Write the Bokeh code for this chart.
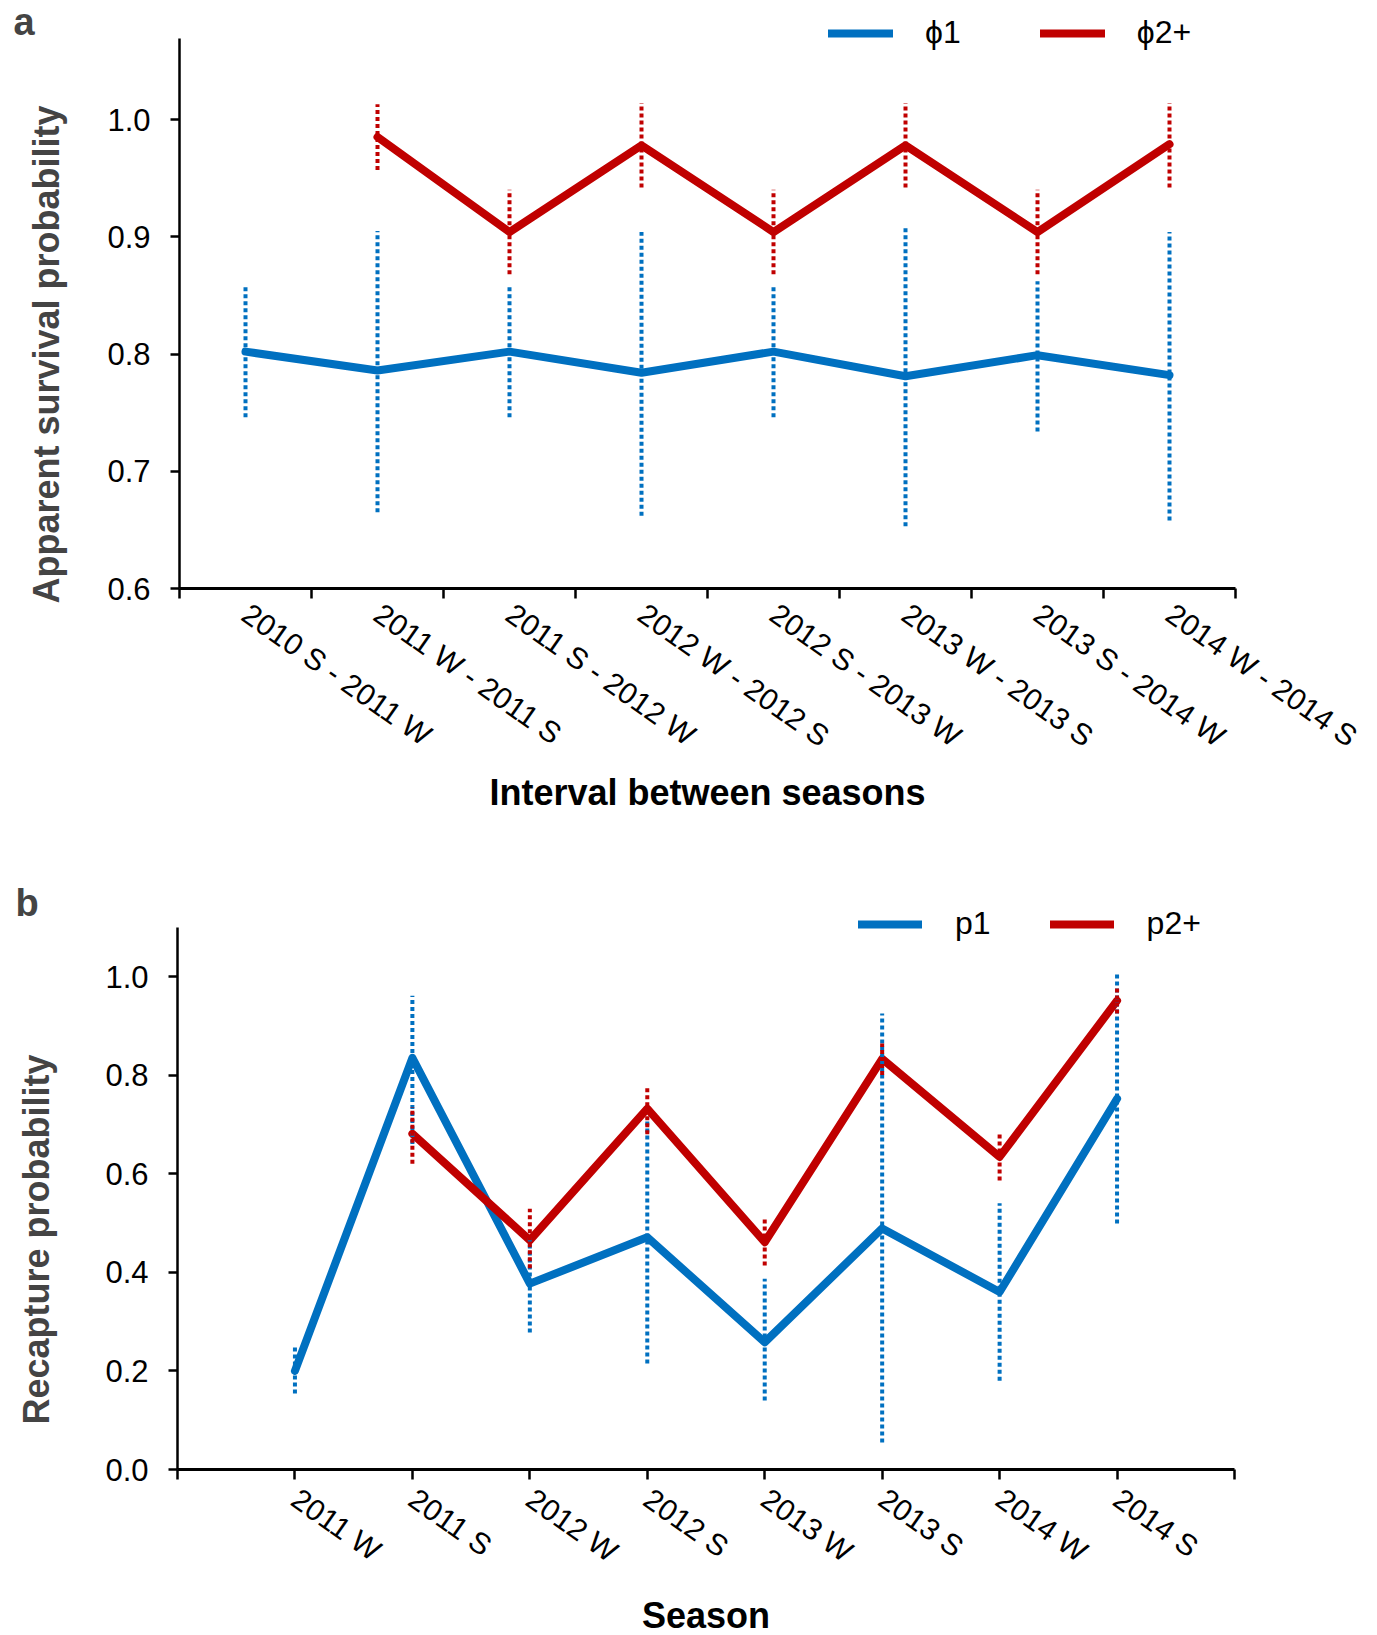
import numpy as np
from bokeh.plotting import figure
from bokeh.models import (Range1d, FixedTicker, NumeralTickFormatter, Label,
                          Legend, LegendItem)
from bokeh.layouts import column
from bokeh.embed import file_html
from bokeh.resources import INLINE

nan = np.nan
BLUE = "#0070C0"
RED = "#C00000"
FONT = "Liberation Sans"

# ---------------- Panel a data ----------------
intervals = ["2010 S - 2011 W", "2011 W - 2011 S", "2011 S - 2012 W", "2012 W - 2012 S",
             "2012 S - 2013 W", "2013 W - 2013 S", "2013 S - 2014 W", "2014 W - 2014 S"]
phi1 = [0.802, 0.786, 0.802, 0.784, 0.802, 0.781, 0.799, 0.782]
phi1_lo = [0.746, 0.665, 0.746, 0.662, 0.746, 0.653, 0.734, 0.658]
phi1_hi = [0.857, 0.905, 0.857, 0.904, 0.857, 0.908, 0.862, 0.904]
phi2 = [nan, 0.985, 0.904, 0.978, 0.904, 0.978, 0.904, 0.979]
phi2_lo = [nan, 0.957, 0.868, 0.942, 0.868, 0.942, 0.868, 0.942]
phi2_hi = [nan, 1.013, 0.940, 1.014, 0.940, 1.014, 0.940, 1.014]
ya_ticks = [0.6, 0.7, 0.8, 0.9, 1.0]
ya_bounds = (0.6, 1.069)

# ---------------- Panel b data ----------------
seasons = ["2011 W", "2011 S", "2012 W", "2012 S", "2013 W", "2013 S", "2014 W", "2014 S"]
p1 = [0.200, 0.835, 0.377, 0.471, 0.258, 0.489, 0.360, 0.752]
p1_lo = [0.154, 0.660, 0.278, 0.215, 0.140, 0.055, 0.180, 0.499]
p1_hi = [0.248, 0.961, 0.470, 0.714, 0.387, 0.925, 0.540, 1.009]
p2 = [nan, 0.681, 0.465, 0.732, 0.461, 0.833, 0.634, 0.951]
p2_lo = [nan, 0.620, 0.408, 0.680, 0.414, 0.800, 0.586, 0.925]
p2_hi = [nan, 0.735, 0.529, 0.779, 0.512, 0.864, 0.681, 0.978]
yb_ticks = [0.0, 0.2, 0.4, 0.6, 0.8, 1.0]
yb_bounds = (0.0, 1.10)

FIG_W = 1369


def ranges(width, height, x0v, x0px, x1v, x1px, y0v, y0px, y1v, y1px):
    """Map pixel anchors (from figure top-left) to data ranges covering the whole canvas."""
    sx = (x1px - x0px) / (x1v - x0v)
    sy = (y0px - y1px) / (y1v - y0v)
    xs = x0v - x0px / sx
    xe = x0v + (width - x0px) / sx
    ye = y0v + y0px / sy
    ys = y0v - (height - y0px) / sy
    return (xs, xe), (ys, ye)


def base_fig(width, height, xr, yr, xbounds, ybounds, xfix, yfix):
    p = figure(width=width, height=height, x_range=Range1d(*xr), y_range=Range1d(*yr),
               output_backend="svg", toolbar_location=None,
               min_border=0, min_border_left=0, min_border_right=0,
               min_border_top=0, min_border_bottom=0)
    p.outline_line_color = None
    p.xgrid.visible = False
    p.ygrid.visible = False
    p.background_fill_color = "white"
    for ax in (p.xaxis[0], p.yaxis[0]):
        ax.axis_line_color = "black"
        ax.major_tick_line_color = "black"
        ax.minor_tick_line_color = "black"
        ax.major_label_text_font = FONT
        ax.major_label_text_font_size = "31px"
        ax.major_label_text_color = "black"
        ax.axis_label_text_font = FONT
        ax.axis_label_text_font_size = "36px"
        ax.axis_label_text_font_style = "bold"
        ax.axis_label_text_color = "black"
    yax = p.yaxis[0]
    yax.fixed_location = yfix
    yax.bounds = ybounds
    yax.axis_line_width = 2.5
    yax.major_tick_line_width = 2.5
    yax.major_tick_out = 9
    yax.major_tick_in = 0
    yax.minor_tick_line_color = None
    yax.major_label_standoff = 20
    yax.formatter = NumeralTickFormatter(format="0.0")
    xax = p.xaxis[0]
    xax.fixed_location = xfix
    xax.bounds = xbounds
    xax.axis_line_width = 3
    xax.major_label_text_font_size = "30px"
    xax.major_label_orientation = -0.61
    xax.minor_tick_line_width = 2.5
    xax.major_tick_line_width = 2.5
    xax.minor_tick_out = 10
    xax.minor_tick_in = 0
    return p


def add_series(p, xs, ys, color):
    return p.line(xs, ys, line_width=8, line_color=color, line_join="round", line_cap="round")


def add_bars(p, xs, lo, hi, color):
    p.segment(x0=xs, y0=lo, x1=xs, y1=hi, line_color=color, line_width=4, line_dash="4 3")


# ---------------- Panel a ----------------
FA_H = 850
na = len(intervals)
xa = [i + 0.5 for i in range(na)]
xra, yra = ranges(FIG_W, FA_H, 0, 179, na, 1235, ya_ticks[0], 588, ya_ticks[-1], 119)
pa = base_fig(FIG_W, FA_H, xra, yra, (0, na), ya_bounds, ya_bounds[0], 0)
pa.xaxis[0].ticker = FixedTicker(ticks=xa, minor_ticks=list(range(na + 1)))
pa.xaxis[0].major_label_overrides = {x: lab for x, lab in zip(xa, intervals)}
pa.xaxis[0].major_tick_out = 0
pa.xaxis[0].major_tick_in = 0
pa.xaxis[0].major_label_standoff = 12
pa.xaxis[0].axis_label = "Interval between seasons"
pa.xaxis[0].axis_label_standoff = 2
pa.yaxis[0].ticker = FixedTicker(ticks=ya_ticks)

ra1 = add_series(pa, xa, phi1, BLUE)
ra2 = add_series(pa, xa, phi2, RED)
add_bars(pa, xa, phi1_lo, phi1_hi, BLUE)
add_bars(pa, xa, phi2_lo, phi2_hi, RED)

leg_a = Legend(items=[LegendItem(label="\u03d51", renderers=[ra1]),
                      LegendItem(label="\u03d52+", renderers=[ra2])],
               location=(828, 799), orientation="horizontal",
               glyph_width=65, glyph_height=20, label_standoff=32, spacing=79,
               padding=0, margin=0, border_line_color=None, background_fill_alpha=0,
               label_text_font=FONT, label_text_font_size="32px", label_text_color="black")
pa.add_layout(leg_a)

pa.add_layout(Label(x=13, y=829, x_units="screen", y_units="screen", text="a",
                    text_font=FONT, text_font_size="38px", text_font_style="bold",
                    text_baseline="alphabetic", text_align="left"))
pa.add_layout(Label(x=46, y=247, x_units="screen", y_units="screen",
                    text="Apparent survival probability", angle=np.pi / 2,
                    text_font=FONT, text_font_size="36px", text_font_style="bold",
                    text_baseline="middle", text_align="left"))

# ---------------- Panel b ----------------
FB_H = 785
nb = len(seasons)
xb = [i + 1 for i in range(nb)]
xrb, yrb = ranges(FIG_W, FB_H, 0, 177, nb + 1, 1234, yb_ticks[0], 619, yb_ticks[-1], 126)
pb = base_fig(FIG_W, FB_H, xrb, yrb, (0, nb + 1), yb_bounds, yb_bounds[0], 0)
pb.xaxis[0].ticker = FixedTicker(ticks=xb, minor_ticks=[0, nb + 1])
pb.xaxis[0].major_label_overrides = {x: lab for x, lab in zip(xb, seasons)}
pb.xaxis[0].major_tick_out = 10
pb.xaxis[0].major_tick_in = 0
pb.xaxis[0].major_label_standoff = 16
pb.xaxis[0].axis_label = "Season"
pb.xaxis[0].axis_label_standoff = 10
pb.yaxis[0].ticker = FixedTicker(ticks=yb_ticks)

rb1 = add_series(pb, xb, p1, BLUE)
rb2 = add_series(pb, xb, p2, RED)
add_bars(pb, xb, p1_lo, p1_hi, BLUE)
add_bars(pb, xb, p2_lo, p2_hi, RED)

leg_b = Legend(items=[LegendItem(label="p1", renderers=[rb1]),
                      LegendItem(label="p2+", renderers=[rb2])],
               location=(858, 693), orientation="horizontal",
               glyph_width=64, glyph_height=20, label_standoff=33, spacing=59,
               padding=0, margin=0, border_line_color=None, background_fill_alpha=0,
               label_text_font=FONT, label_text_font_size="32px", label_text_color="black")
pb.add_layout(leg_b)

pb.add_layout(Label(x=15, y=733, x_units="screen", y_units="screen", text="b",
                    text_font=FONT, text_font_size="38px", text_font_style="bold",
                    text_baseline="alphabetic", text_align="left"))
pb.add_layout(Label(x=36, y=211, x_units="screen", y_units="screen",
                    text="Recapture probability", angle=np.pi / 2,
                    text_font=FONT, text_font_size="36px", text_font_style="bold",
                    text_baseline="middle", text_align="left"))

layout = column(pa, pb)
open("out.html", "w").write(file_html(layout, INLINE))
